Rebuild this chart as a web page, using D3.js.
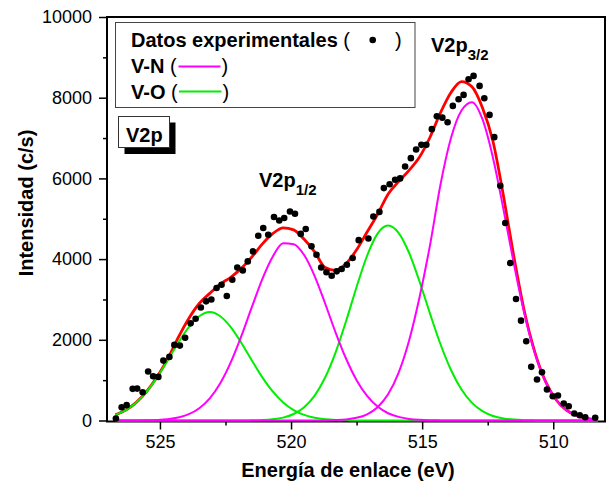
<!DOCTYPE html>
<html>
<head>
<meta charset="utf-8">
<script src="https://cdn.jsdelivr.net/npm/d3@7"></script>
<style>
  html, body { margin: 0; padding: 0; background: #fff; }
  svg { display: block; }
  text { font-family: "Liberation Sans", Arial, Helvetica, sans-serif; fill: #000; }
</style>
</head>
<body>
<svg id="chart" width="607" height="485"></svg>
<script>
// ---------------- data ----------------
const energyGrid = [526.7, 526.3, 525.9, 525.5, 525.1, 524.7, 524.3, 523.9, 523.5, 523.1,
  522.7, 522.3, 521.9, 521.5, 521.1, 520.7, 520.3, 519.9, 519.5, 519.1,
  518.7, 518.3, 517.9, 517.5, 517.1, 516.7, 516.3, 515.9, 515.5, 515.1,
  514.7, 514.3, 513.9, 513.5, 513.1, 512.7, 512.3, 511.9, 511.5, 511.1,
  510.7, 510.3, 509.9, 509.5, 509.1, 508.7, 508.3];

// V-O components (green)
const voPeak1 = [139, 259, 448, 720, 1076, 1494, 1929, 2316, 2584, 2690,
  2584, 2316, 1929, 1494, 1076, 720, 448, 259, 139, 69,
  32, 14, 6, 2, 0, 0, 0, 0, 0, 0,
  0, 0, 0, 0, 0, 0, 0, 0, 0, 0,
  0, 0, 0, 0, 0, 0, 0];
const voPeak2 = [0, 0, 0, 0, 0, 0, 0, 0, 0, 0,
  0, 0, 1, 4, 11, 30, 72, 161, 329, 617,
  1065, 1690, 2466, 3310, 4083, 4631, 4830, 4652, 4157, 3445,
  2649, 1890, 1251, 768, 437, 231, 113, 51, 22, 8,
  3, 1, 0, 0, 0, 0, 0];
// V-N components (magenta)
const vnPeak1 = [0, 1, 2, 5, 14, 33, 74, 156, 304, 550,
  923, 1439, 2084, 2802, 3499, 4058, 4390, 4370, 4100, 3580,
  2900, 2180, 1530, 1000, 610, 345, 180, 90, 40, 17,
  7, 3, 1, 0, 0, 0, 0, 0, 0, 0,
  0, 0, 0, 0, 0, 0, 0];
const vnPeak2 = [0, 0, 0, 0, 0, 0, 0, 0, 0, 0,
  0, 0, 0, 0, 0, 0, 0, 0, 0, 1,
  3, 10, 26, 66, 154, 329, 649, 1180, 1977, 3055,
  4347, 5850, 7000, 7683, 7890, 7467, 6513, 5235, 3878, 2648,
  1666, 966, 516, 254, 115, 48, 19];
// fit envelope (red)
const fitEnvelope = [139, 260, 450, 725, 1090, 1530, 2060, 2530, 2900, 3150,
  3380, 3550, 3770, 4050, 4370, 4630, 4775, 4725, 4490, 4180,
  3790, 3720, 3890, 4230, 4670, 5110, 5610, 5920, 6200, 6530,
  7020, 7630, 8130, 8400, 8270, 7750, 6920, 5570, 4050, 2700,
  1690, 975, 520, 256, 116, 48, 19];

// experimental points
const dotEnergy = [526.68, 526.46, 526.27, 526.04, 525.87, 525.66, 525.45, 525.26, 525.06, 524.87,
  524.64, 524.45, 524.24, 524.04, 523.83, 523.64, 523.44, 523.24, 523.04, 522.84,
  522.65, 522.45, 522.24, 522.05, 521.84, 521.65, 521.45, 521.25, 521.06, 520.87,
  520.65, 520.45, 520.26, 520.04, 519.85, 519.63, 519.44, 519.22, 519.03, 518.85,
  518.65, 518.45, 518.26, 518.07, 517.87, 517.65, 517.42, 517.05, 516.86, 516.63,
  516.46, 516.24, 516.03, 515.84, 515.65, 515.43, 515.23, 515.03, 514.84, 514.63,
  514.44, 514.23, 514.03, 513.83, 513.61, 513.42, 513.23, 513.04, 512.81, 512.63,
  512.43, 512.25, 512.02, 511.83, 511.64, 511.42, 511.23, 511.03, 510.84, 510.62,
  510.43, 510.24, 510.02, 509.82, 509.60, 509.41, 509.20, 508.99, 508.78, 508.40];
const dotIntensity = [50, 330, 380, 785, 790, 700, 1213, 1097, 1081, 1485,
  1576, 1874, 1856, 2050, 2408, 2520, 2800, 2953, 3000, 3285,
  3366, 3085, 3490, 3790, 3720, 3943, 4191, 4579, 4770, 4604,
  5042, 4958, 5017, 5181, 5124, 4625, 4745, 4320, 4109, 3790,
  3676, 3589, 3696, 3755, 3861, 4027, 4470, 4510, 5057, 5170,
  5760, 5855, 5965, 6000, 6295, 6502, 6715, 6832, 6832, 7220,
  7540, 7505, 7390, 7797, 7962, 8069, 8458, 8540, 8292, 7988,
  7574, 7022, 5817, 4894, 3903, 3012, 2475, 1963, 1329, 1015,
  1196, 767, 601, 619, 421, 354, 173, 131, 82, 66];

const xMajorTicks = [525, 520, 515, 510];
const xMinorTicks = [522.5, 517.5, 512.5];
const yMajorTicks = [0, 2000, 4000, 6000, 8000, 10000];
const yMinorTicks = [1000, 3000, 5000, 7000, 9000];

const xTitle = "Energía de enlace (eV)";
const yTitle = "Intensidad (c/s)";
const legendLabels = ["Datos experimentales", "V-N", "V-O"];

// ---------------- drawing ----------------
const svg = d3.select("#chart");
const L = 107, R = 605, T = 17, B = 420.5;

const x = d3.scaleLinear().domain([527, 508]).range([107.5, 605.7]);
const y = d3.scaleLinear().domain([0, 10000]).range([B, T]);

svg.append("rect").attr("width", 607).attr("height", 485).attr("fill", "#fff");

// frame
svg.append("rect")
  .attr("x", L).attr("y", T).attr("width", R - L).attr("height", 421.5 - T)
  .attr("fill", "none").attr("stroke", "#000").attr("stroke-width", 2);

// axes
const gx = svg.append("g").attr("transform", `translate(0,421.5)`)
  .call(d3.axisBottom(x).tickValues(xMajorTicks).tickSize(8).tickPadding(6).tickFormat(d3.format("d")));
const gxm = svg.append("g").attr("transform", `translate(0,421.5)`)
  .call(d3.axisBottom(x).tickValues(xMinorTicks).tickSize(4).tickFormat(""));
const gy = svg.append("g").attr("transform", `translate(${L},0)`)
  .call(d3.axisLeft(y).tickValues(yMajorTicks).tickSize(8).tickPadding(7).tickFormat(d3.format("d")));
const gym = svg.append("g").attr("transform", `translate(${L},0)`)
  .call(d3.axisLeft(y).tickValues(yMinorTicks).tickSize(4).tickFormat(""));
[gx, gxm, gy, gym].forEach(g => {
  g.select(".domain").remove();
  g.selectAll(".tick line").attr("stroke", "#000").attr("stroke-width", 1.5);
  g.selectAll(".tick text").attr("font-size", 18)
    .attr("font-family", '"Liberation Sans", Arial, sans-serif').attr("fill", "#000");
});
gx.selectAll(".tick text").attr("dy", "0.71em");

// axis titles
svg.append("text").attr("x", 348).attr("y", 477)
  .attr("text-anchor", "middle").attr("font-size", 20).attr("font-weight", "bold").text(xTitle);
svg.append("text").attr("transform", "translate(32.5,203) rotate(-90)")
  .attr("text-anchor", "middle").attr("font-size", 20).attr("font-weight", "bold").text(yTitle);

// curves
const line = d3.line()
  .x((d, i) => x(energyGrid[i]))
  .y(d => y(d))
  .curve(d3.curveMonotoneX);

const plot = svg.append("g");
plot.append("path").datum(fitEnvelope).attr("d", line)
  .attr("fill", "none").attr("stroke", "#ff0000").attr("stroke-width", 2.8).attr("stroke-linejoin", "round");
[voPeak1, voPeak2].forEach(s => plot.append("path").datum(s).attr("d", line)
  .attr("fill", "none").attr("stroke", "#00ee00").attr("stroke-width", 2));
[vnPeak1, vnPeak2].forEach(s => plot.append("path").datum(s).attr("d", line)
  .attr("fill", "none").attr("stroke", "#ff00ff").attr("stroke-width", 2));

plot.selectAll("circle.pt").data(dotEnergy).enter().append("circle")
  .attr("class", "pt")
  .attr("cx", d => x(d))
  .attr("cy", (d, i) => y(dotIntensity[i]))
  .attr("r", 3.3).attr("fill", "#000");

// legend
const lg = svg.append("g");
lg.append("rect").attr("x", 115.5).attr("y", 22.5).attr("width", 299.5).attr("height", 85)
  .attr("fill", "#fff").attr("stroke", "#444").attr("stroke-width", 1);
const rows = [{y: 47, label: legendLabels[0]}, {y: 73, label: legendLabels[1]}, {y: 99, label: legendLabels[2]}];
rows.forEach(r => {
  const t = lg.append("text").attr("x", 131).attr("y", r.y).attr("font-size", 20);
  t.append("tspan").attr("font-weight", "bold").text(r.label);
  t.append("tspan").attr("font-weight", "normal").text(" (");
});
lg.append("circle").attr("cx", 372.7).attr("cy", 40).attr("r", 3.3).attr("fill", "#000");
lg.append("text").attr("x", 395).attr("y", 47).attr("font-size", 20).text(")");
lg.append("line").attr("x1", 178.5).attr("x2", 220.5).attr("y1", 66.5).attr("y2", 66.5)
  .attr("stroke", "#ff00ff").attr("stroke-width", 2);
lg.append("text").attr("x", 221.5).attr("y", 73).attr("font-size", 20).text(")");
lg.append("line").attr("x1", 179).attr("x2", 221.5).attr("y1", 91.5).attr("y2", 91.5)
  .attr("stroke", "#00ee00").attr("stroke-width", 2);
lg.append("text").attr("x", 222.5).attr("y", 99).attr("font-size", 20).text(")");

// V2p boxed label with shadow
svg.append("rect").attr("x", 124.5).attr("y", 122.5).attr("width", 51).attr("height", 31.5).attr("fill", "#000");
svg.append("rect").attr("x", 118.5).attr("y", 116.5).attr("width", 51).attr("height", 31)
  .attr("fill", "#fff").attr("stroke", "#333").attr("stroke-width", 1);
svg.append("text").attr("x", 126).attr("y", 141.5).attr("font-size", 20).attr("font-weight", "bold").text("V2p");

// peak annotations
function peakLabel(px, py, sub) {
  const t = svg.append("text").attr("x", px).attr("y", py).attr("font-size", 20).attr("font-weight", "bold");
  t.append("tspan").text("V2p");
  t.append("tspan").attr("font-size", 15).attr("dy", 7.5).text(sub);
}
peakLabel(259, 187, "1/2");
peakLabel(431, 52, "3/2");
</script>
</body>
</html>
